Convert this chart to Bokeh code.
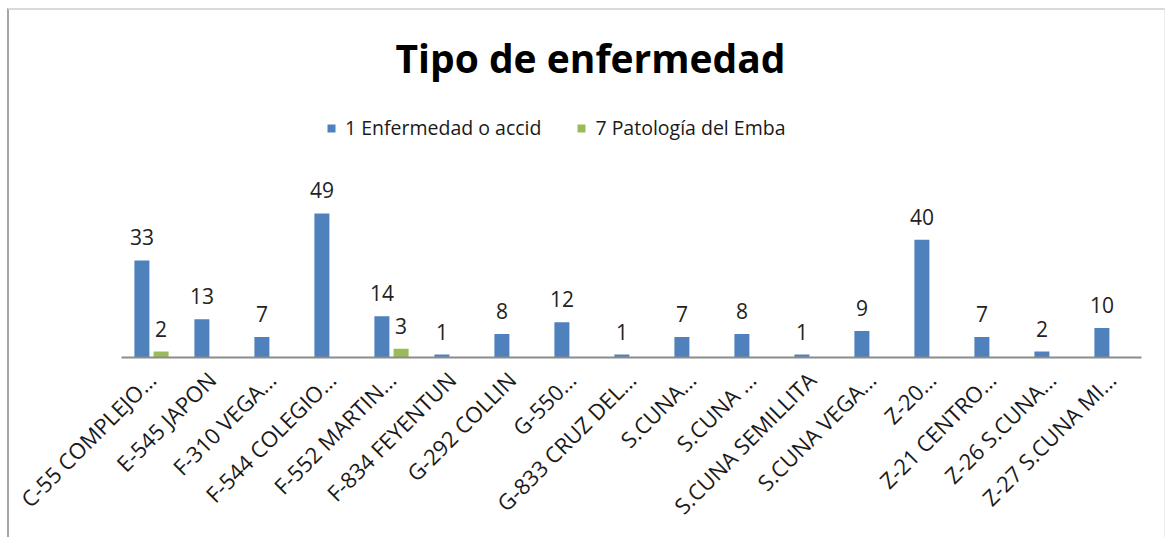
import math
from bokeh.plotting import figure
from bokeh.models import ColumnDataSource, Range1d, Label, Legend, LegendItem
from bokeh.transform import dodge
from bokeh.core.properties import value
from bokeh.embed import file_html
from bokeh.resources import INLINE

categories = ["C-55 COMPLEJO...", "E-545 JAPON", "F-310 VEGA...", "F-544 COLEGIO...",
              "F-552 MARTIN...", "F-834 FEYENTUN", "G-292 COLLIN", "G-550...",
              "G-833 CRUZ DEL...", "S.CUNA...", "S.CUNA ...", "S.CUNA SEMILLITA",
              "S.CUNA VEGA...", "Z-20...", "Z-21 CENTRO...", "Z-26 S.CUNA...",
              "Z-27 S.CUNA MI..."]
enfermedad = [33, 13, 7, 49, 14, 1, 8, 12, 1, 7, 8, 1, 9, 40, 7, 2, 10]
patologia = [2, 0, 0, 0, 3, 0, 0, 0, 0, 0, 0, 0, 0, 0, 0, 0, 0]
series_names = ["1 Enfermedad o accid", "7 Patología del Emba"]
title_text = "Tipo de enfermedad"

BLUE = "#4F81BD"
GREEN = "#9BBB59"
FONT = "Open Sans"

src = ColumnDataSource(dict(cat=categories, a=enfermedad, b=patologia))

p = figure(x_range=categories, y_range=Range1d(0, 118.0),
           width=1158, height=529, output_backend="svg", toolbar_location=None,
           min_border_left=112, min_border_right=26, min_border_top=0,
           min_border_bottom=182)
p.styles = {"border-left": "2px solid #a6a6a6", "border-top": "2px solid #d9d9d9",
            "border-right": "1px solid #ececec", "margin-top": "8px",
            "margin-left": "7px"}
p.outline_line_color = None
p.xgrid.visible = False
p.ygrid.visible = False
p.yaxis.visible = False

OFF = 0.16
W = 0.25
r1 = p.vbar(x=dodge("cat", -OFF, range=p.x_range), top="a", width=W, source=src,
            fill_color=BLUE, line_color=None)
r2 = p.vbar(x=dodge("cat", OFF, range=p.x_range), top="b", width=W, source=src,
            fill_color=GREEN, line_color=None)

# value labels (skip zero values)
la = ColumnDataSource(dict(cat=[c for c, v in zip(categories, enfermedad) if v],
                           v=[v for v in enfermedad if v],
                           t=[str(v) for v in enfermedad if v]))
lb = ColumnDataSource(dict(cat=[c for c, v in zip(categories, patologia) if v],
                           v=[v for v in patologia if v],
                           t=[str(v) for v in patologia if v]))
for s, off in ((la, -OFF), (lb, OFF)):
    p.text(x=dodge("cat", off, range=p.x_range), y="v", text="t", source=s,
           text_align="center", text_baseline="alphabetic", y_offset=-23,
           text_font=value(FONT), text_font_size="21px", text_color="#222222")

ax = p.xaxis[0]
ax.major_label_orientation = math.pi / 4
ax.major_label_text_font = FONT
ax.major_label_text_font_size = "22px"
ax.major_label_text_color = "#1a1a1a"
ax.major_tick_line_color = None
ax.minor_tick_line_color = None
ax.axis_line_color = "#8c8c8c"
ax.axis_line_width = 2
ax.major_label_standoff = 12

legend = Legend(items=[LegendItem(label=series_names[0], renderers=[r1]),
                       LegendItem(label=series_names[1], renderers=[r2])],
                orientation="horizontal", location=(205, 216),
                padding=0, margin=0, spacing=35, label_standoff=9,
                glyph_width=10, glyph_height=10,
                label_text_font=FONT, label_text_font_size="19.5px",
                label_text_color="#1a1a1a",
                border_line_color=None, background_fill_alpha=0)
p.add_layout(legend)

p.add_layout(Label(x=469, y=300, x_units="screen", y_units="screen", text=title_text,
                   text_align="center", text_baseline="middle",
                   text_font=FONT, text_font_style="bold", text_font_size="39px",
                   text_color="#000000"))

open("out.html", "w").write(file_html(p, INLINE))
